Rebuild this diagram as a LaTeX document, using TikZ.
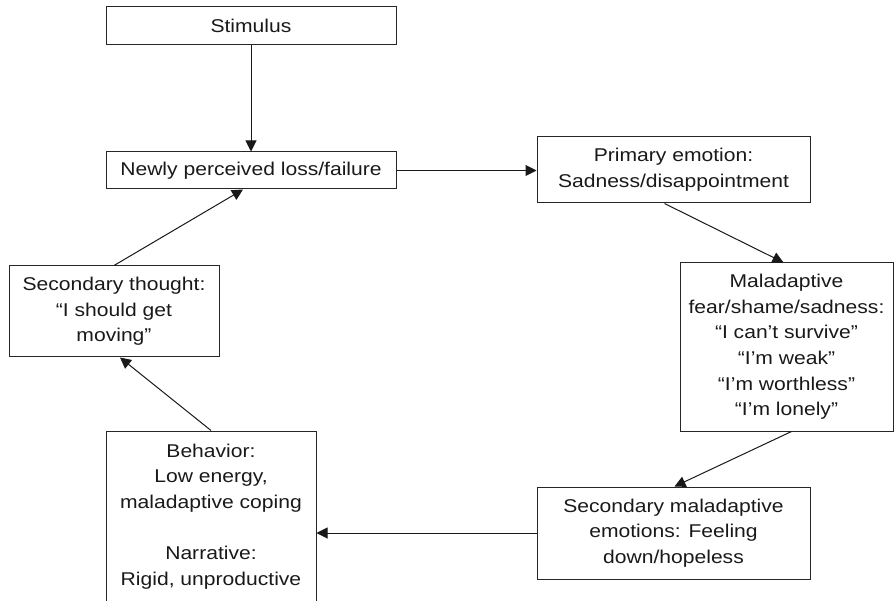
\documentclass[tikz,border=0pt]{standalone}
\usepackage{fontspec}
\setmainfont{Liberation Sans}[FakeStretch = 1.14]
\usetikzlibrary{arrows.meta}

\begin{document}
\begin{tikzpicture}[x = 1pt, y = -1pt, >={Triangle[length = 11pt, width = 11pt]},
	box/.style = {draw = black!85, line width = 1pt, align = center, inner sep = 0pt, text = black!90, font = \fontsize{18.5}{25.6}\selectfont},
	link/.style = {->, draw = black!90, line width = 1pt}]
	\useasboundingbox (0,0) rectangle (894,601);

	\node[box, minimum width = 290pt, minimum height = 38pt] (stim) at (251,26) {Stimulus};
	\node[box, minimum width = 290pt, minimum height = 37pt] (loss) at (251,170.5) {Newly perceived loss/failure};
	\node[box, minimum width = 273pt, minimum height = 66pt] (prim) at (673.5,170) {Primary emotion:\\ Sadness/disappointment};
	\node[box, minimum width = 213pt, minimum height = 168pt] (mal) at (786.5,347) {Maladaptive\\ fear/shame/sadness:\\ “I can’t survive”\\ “I’m weak”\\ “I’m worthless”\\ “I’m lonely”};
	\node[box, minimum width = 273pt, minimum height = 92pt] (secmal) at (673.5,533) {Secondary maladaptive\\ emotions: Feeling\\ down/hopeless};
	\node[box, minimum width = 210pt, minimum height = 171pt] (beh) at (211,516.5) {Behavior:\\ Low energy,\\ maladaptive coping\\[25.6pt] Narrative:\\ Rigid, unproductive};
	\node[box, minimum width = 210pt, minimum height = 91pt] (thought) at (114,311.5) {Secondary thought:\\ “I should get\\ moving”};

	\draw[link] (stim) -- (loss);
	\draw[link] (loss.east) -- (loss.east -| prim.west);
	\draw[link] ([xshift = -9pt]prim.south) -- ([xshift = -3pt]mal.north);
	\draw[link] ([xshift = 5pt]mal.south) -- ([xshift = 1pt]secmal.north);
	\draw[link] (secmal.west) -- (secmal.west -| beh.east);
	\draw[link] (beh.north) -- ([xshift = 6pt]thought.south);
	\draw[link] (thought.north) -- ([xshift = -8pt]loss.south);
\end{tikzpicture}
\end{document}
